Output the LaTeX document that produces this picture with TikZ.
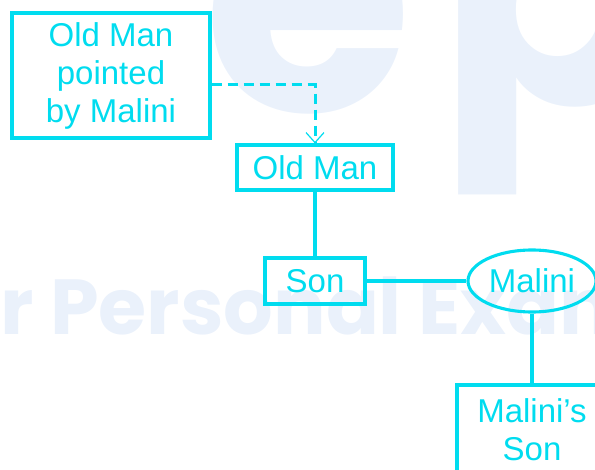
\documentclass[tikz,border=0pt]{standalone}
\usepackage{fontspec}
\setmainfont{Liberation Sans}
\newfontfamily\wmfont{Poppins}
\usetikzlibrary{arrows.meta,shapes.geometric}
\definecolor{cy}{HTML}{00DCEF}
\definecolor{wm}{HTML}{EAF1FB}
\begin{document}
\begin{tikzpicture}[x=1pt,y=-1pt,
  box/.style={draw=cy, line width=3.1pt, text=cy, inner sep=0pt, font=\fontsize{33}{38}\selectfont, align=center},
  conn/.style={draw=cy, line width=3.1pt},
  dashconn/.style={draw=cy, line width=3pt, dash pattern=on 10pt off 6pt},
  wmtext/.style={anchor=base west, text=wm, inner sep=0pt}
]
\useasboundingbox (0,0) rectangle (595,470);
\clip (0,0) rectangle (595,470);
% watermark
\node[wmtext, font=\wmfont\bfseries\fontsize{78}{78}\selectfont] (wm1) at (0,335) {r Personal Exam};
\node[wmtext, font=\wmfont\bfseries\fontsize{340}{340}\selectfont] (wme) at (203,112) {e};
\node[wmtext, font=\wmfont\bfseries\fontsize{340}{340}\selectfont] (wmp) at (437,105) {p};
% nodes
\node[box, minimum width=198pt, minimum height=125pt] (omp) at (111,75.5) {Old Man\\pointed\\by Malini};
\node[box, minimum width=156pt, minimum height=45pt] (om) at (315,167.5) {Old Man};
\node[box, minimum width=100pt, minimum height=46pt] (son) at (315,281) {Son};
\node[box, ellipse, minimum width=128pt, minimum height=62pt] (mal) at (532,281) {Malini};
\node[box, minimum width=150pt, minimum height=89pt] (ms) at (532,429.5) {Malini's\\Son};
\coordinate (dy) at (0,85);
% connectors
\draw[dashconn, -{Straight Barb[length=10pt,width=18pt,line width=1.2pt]}] (omp.east |- dy) -| (om.north);
\draw[conn] (om) -- (son);
\draw[conn] (son) -- (mal);
\draw[conn] (mal) -- (ms);
\end{tikzpicture}
\end{document}
